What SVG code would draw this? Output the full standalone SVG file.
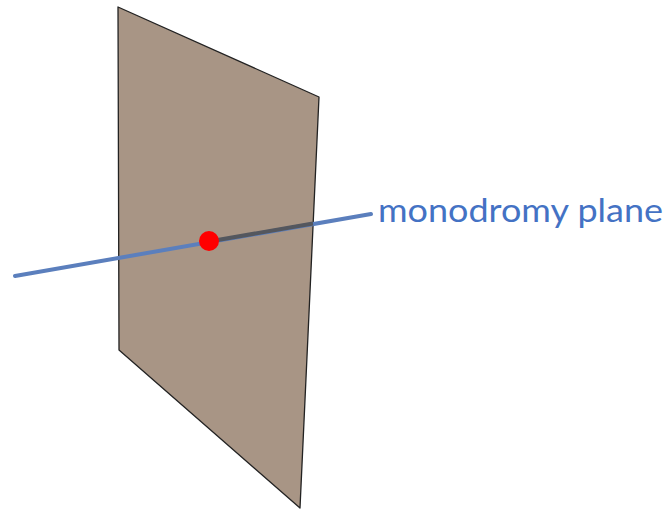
<svg xmlns="http://www.w3.org/2000/svg" width="671" height="509" viewBox="0 0 671 509">
<style>
.plane{fill:#a89585;stroke:#222;stroke-width:1.3;stroke-linejoin:round}
.axis{stroke:#5b7fbd;stroke-width:4;stroke-linecap:round;fill:none}
.hidden{stroke:#54575e;stroke-width:4;fill:none}
.lbl{font-family:Lato,"Liberation Sans",Arial,sans-serif;font-size:33px;fill:#4472c4}
</style>
<rect width="671" height="509" fill="#fff"/>
<g id="plane">
<polygon class="plane" points="118,7 319,97 300,508 119,350"/>
</g>
<g id="connectors">
<line class="axis" x1="15" y1="276" x2="371" y2="214"/>
<line class="hidden" x1="209" y1="241.5" x2="313" y2="223.5"/>
</g>
<g id="point">
<circle cx="209" cy="241" r="10" fill="#ff0000"/>
</g>
<g id="label">
<text class="lbl" x="378" y="222" textLength="285" lengthAdjust="spacingAndGlyphs">monodromy plane</text>
</g>
</svg>
